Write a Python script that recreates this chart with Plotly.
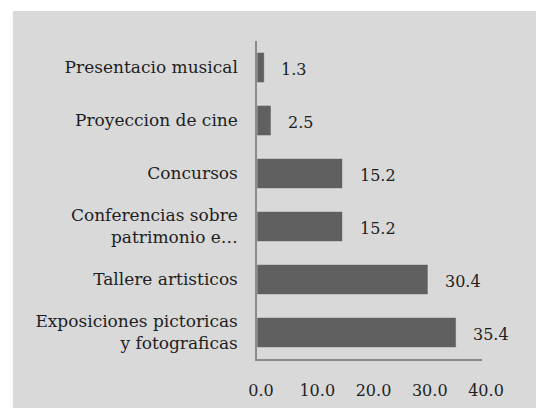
import plotly.graph_objects as go

categorias = [
    'Exposiciones pictoricas<br>y fotograficas',
    'Tallere artisticos',
    'Conferencias sobre<br>patrimonio e…',
    'Concursos',
    'Proyeccion de cine',
    'Presentacio musical',
]
valores = [35.4, 30.4, 15.2, 15.2, 2.5, 1.3]
ticks_x = [0, 10, 20, 30, 40]

fuente = 'DejaVu Serif'

fig = go.Figure(go.Bar(
    x=valores,
    y=categorias,
    orientation='h',
    marker_color='#606060',
    width=0.57,
))

# etiquetas de datos a la derecha de cada barra
for v, c in zip(valores, categorias):
    fig.add_annotation(x=v, y=c, text=f'{v:.1f}', showarrow=False,
                       xanchor='left', xshift=15, yshift=-2,
                       font=dict(family=fuente, size=16, color='#1e1e1e'))

# fondo gris con borde blanco arriba e izquierda
fig.add_shape(type='rect', xref='paper', yref='paper',
              x0=-1.085, x1=1.3, y0=-0.2, y1=1.094,
              fillcolor='#d9d9d9', line_width=0, layer='below')

fig.update_layout(
    width=536, height=408,
    margin=dict(l=257, r=54, t=41, b=49, autoexpand=False),
    paper_bgcolor='white',
    plot_bgcolor='rgba(0,0,0,0)',
    font=dict(family=fuente, size=17, color='#1e1e1e'),
    showlegend=False,
)
fig.update_xaxes(range=[0, 40], tickvals=ticks_x, tickformat='.1f',
                 showgrid=False, zeroline=False, automargin=False,
                 showline=True, linecolor='#8a8a8a', linewidth=1.5,
                 ticks='', ticklabelstandoff=16, ticklabelshift=4,
                 tickfont=dict(size=16))
fig.update_yaxes(showgrid=False, zeroline=False, automargin=False,
                 showline=True, linecolor='#8a8a8a', linewidth=1.5,
                 ticks='', ticklabelstandoff=14)

fig.write_html('out.html', config={'displayModeBar': False},
               post_script="document.body.style.margin='0';")
